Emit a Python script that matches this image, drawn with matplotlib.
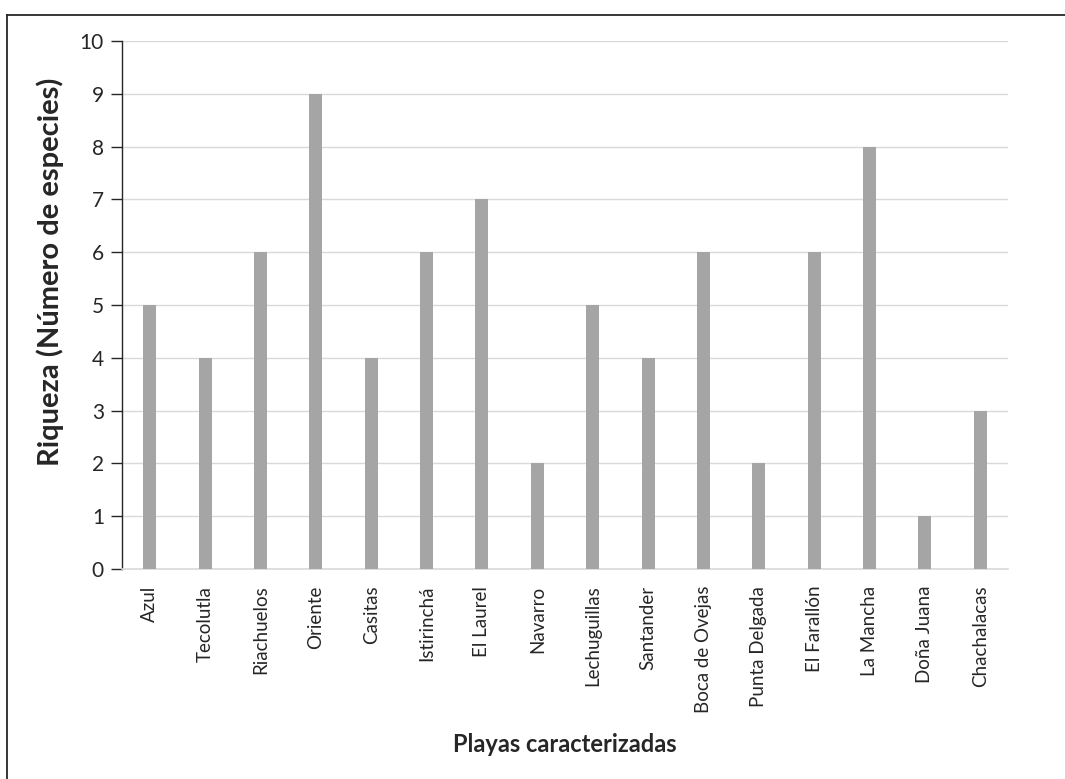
import matplotlib
matplotlib.use("Agg")
import matplotlib.pyplot as plt
from matplotlib.lines import Line2D

playas = ["Azul", "Tecolutla", "Riachuelos", "Oriente", "Casitas", "Istirinchá",
          "El Laurel", "Navarro", "Lechuguillas", "Santander", "Boca de Ovejas",
          "Punta Delgada", "El Farallón", "La Mancha", "Doña Juana", "Chachalacas"]
riqueza = [5, 4, 6, 9, 4, 6, 7, 2, 5, 4, 6, 2, 6, 8, 1, 3]
yticks = list(range(0, 11))

plt.rcParams["font.family"] = ["Lato", "DejaVu Sans"]

W, H = 1065, 779
fig = plt.figure(figsize=(W / 100, H / 100), dpi=100)
ax = fig.add_axes([122 / W, 1 - 569 / H, (1008 - 122) / W, (569 - 41) / H])

x = list(range(len(playas)))
ax.bar(x, riqueza, width=0.235, color="#A5A5A5", zorder=3)

ax.set_xlim(-0.5, len(playas) - 0.5)
ax.set_ylim(0, 10)
ax.set_yticks(yticks)
ax.set_xticks(x)
ax.set_xticklabels(playas, rotation=90, fontsize=13.5, color="#262626")
ax.tick_params(axis="x", length=0, pad=12)
ax.tick_params(axis="y", length=8, width=1, color="#262626", labelsize=15,
               labelcolor="#262626", pad=5)
ax.grid(axis="y", color="#D9D9D9", linewidth=1, zorder=0)

for s in ["top", "right"]:
    ax.spines[s].set_visible(False)
ax.spines["bottom"].set_color("#D9D9D9")
ax.spines["bottom"].set_linewidth(1.2)
ax.spines["left"].set_color("#262626")
ax.spines["left"].set_linewidth(1)

fig.text(50 / W, 1 - 272 / H, "Riqueza (Número de especies)", rotation=90,
         ha="center", va="center", fontsize=21, fontweight="bold", color="#262626")
fig.text(565 / W, 1 - 744 / H, "Playas caracterizadas", ha="center", va="center",
         fontsize=17, fontweight="bold", color="#262626")

# outer chart frame (top and left edges)
fig.add_artist(Line2D([7 / W, 7 / W], [0, 1 - 15 / H], transform=fig.transFigure,
                      color="#262626", linewidth=1.3))
fig.add_artist(Line2D([7 / W, 1], [1 - 15 / H, 1 - 15 / H], transform=fig.transFigure,
                      color="#262626", linewidth=1.3))

fig.savefig("out.png", dpi=100)
